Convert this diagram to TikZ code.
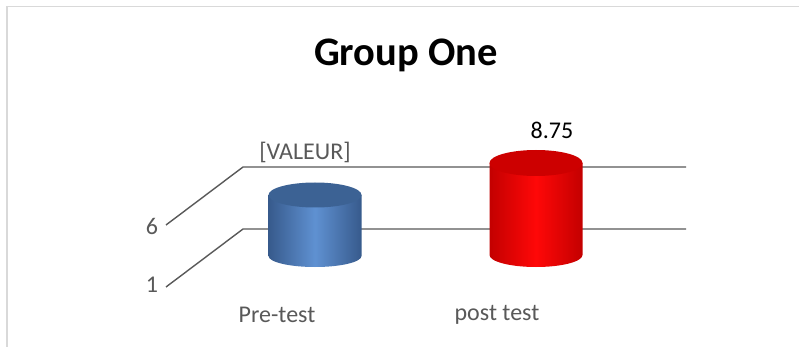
\documentclass[tikz,border=0pt]{standalone}
\usepackage{fontspec}
\setmainfont{Carlito}
\definecolor{blueedge}{RGB}{55,90,140}
\definecolor{bluemid}{RGB}{95,145,210}
\definecolor{bluetop}{RGB}{60,98,148}
\definecolor{rededge}{RGB}{195,0,0}
\definecolor{redmid}{RGB}{255,8,8}
\definecolor{redtop}{RGB}{205,0,0}
\begin{document}
\begin{tikzpicture}[x=1pt,y=-1pt,
  frameline/.style={draw=black!15,line width=1.5pt},
  gridline/.style={draw=black!65,line width=1.4pt},
  axislabel/.style={text=black!65,font=\fontsize{24}{26}\selectfont,inner sep=0pt},
  valuelabel/.style={text=black,font=\fontsize{24}{26}\selectfont,inner sep=0pt}]
\useasboundingbox (0,0) rectangle (799,347);
\fill[white] (0,0) rectangle (799,347);
% frame
\draw[frameline] (7,347) -- (7,6.5) -- (799,6.5);
% title
\node[font=\bfseries\fontsize{40.5}{44}\selectfont,inner sep=0pt] (title) at (406,55) {Group One};
% grid lines
\draw[gridline] (166,287) -- (243,229) -- (686,229);
\draw[gridline] (166,225) -- (243,167) -- (686,167);
% axis values
\node[axislabel] (v6) at (152,226) {6};
\node[axislabel] (v1) at (152,285) {1};
% blue cylinder
\shade[left color=blueedge, right color=blueedge, middle color=bluemid]
  (268.5,195) -- (268.5,256) arc[start angle=180,end angle=0,x radius=46.5,y radius=11] -- (361.5,195) -- cycle;
\fill[bluetop] (315,195) ellipse[x radius=46.5,y radius=12.5];
% red cylinder
\shade[left color=rededge, right color=rededge, middle color=redmid]
  (489.5,163) -- (489.5,255) arc[start angle=180,end angle=0,x radius=46.5,y radius=12] -- (582.5,163) -- cycle;
\fill[redtop] (536,163) ellipse[x radius=46.5,y radius=13];
% data labels
\node[axislabel] (valeur) at (305,152) {[VALEUR]};
\node[valuelabel] (val2) at (552,130) {8.75};
% category labels
\node[axislabel] (cat1) at (277,315) {Pre-test};
\node[axislabel] (cat2) at (497,315) {post test};
\end{tikzpicture}
\end{document}
